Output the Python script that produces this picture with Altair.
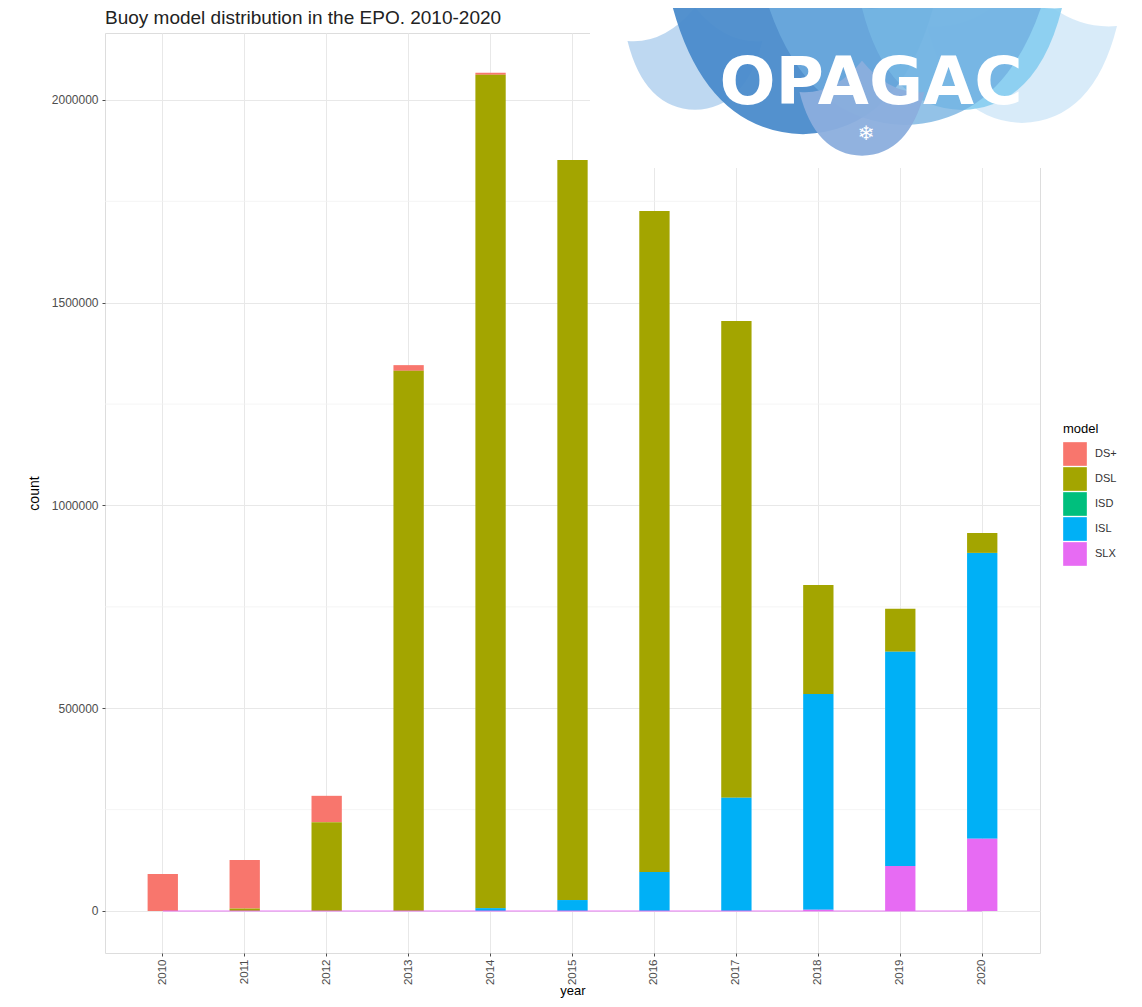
import altair as alt
import pandas as pd

# ---- data ----
years = [str(y) for y in range(2010, 2021)]
models = ["DS+", "DSL", "ISD", "ISL", "SLX"]
model_colors = ["#F8766D", "#A3A500", "#00BF7D", "#00B0F6", "#E76BF3"]

ds_plus = [91000, 120000, 65000, 14000, 5000, 0, 0, 0, 0, 0, 0]
dsl = [0, 6000, 219000, 1332000, 2055000, 1825000, 1630000, 1176000, 269000, 106000, 49000]
isd = [0, 0, 0, 0, 0, 0, 0, 0, 0, 0, 0]
isl = [0, 0, 0, 0, 7000, 27000, 96000, 279000, 532000, 528000, 705000]
slx = [0, 0, 0, 0, 0, 0, 0, 0, 3000, 111000, 178000]

y_ticks = [0, 500000, 1000000, 1500000, 2000000]
y_minor = [250000, 750000, 1250000, 1750000]

title_text = "Buoy model distribution in the EPO. 2010-2020"

series = {"DS+": ds_plus, "DSL": dsl, "ISD": isd, "ISL": isl, "SLX": slx}
rows = []
for i, m in enumerate(models):
    for yr, v in zip(years, series[m]):
        rows.append({"year": yr, "model": m, "count": v, "ord": len(models) - i})
df = pd.DataFrame(rows)
zero_df = pd.DataFrame({"year": years, "count": [0] * len(years)})
minor_df = pd.DataFrame({"v": y_minor})

FONT = "Liberation Sans"
W, H = 935, 920
TOP = 25  # plot top inside the svg (page y = TOP + 8)

x_enc = alt.X(
    "year:O",
    title="year",
    scale=alt.Scale(paddingInner=0.63, paddingOuter=0.52),
    axis=alt.Axis(
        labelAngle=270,
        labelFontSize=11.5,
        labelColor="#4d4d4d",
        labelFont=FONT,
        labelPadding=3,
        tickSize=3,
        tickColor="#4d4d4d",
        domain=False,
        grid=True,
        gridColor="#e8e8e8",
        gridWidth=1,
        titleFontSize=13,
        titleFont=FONT,
        titleColor="#000000",
        titleFontWeight="normal",
        titlePadding=0,
    ),
)

y_scale = alt.Scale(domain=[-103600, 2165000], nice=False, zero=False)

bars = alt.Chart(df).mark_bar().encode(
    x=x_enc,
    y=alt.Y(
        "count:Q",
        stack="zero",
        title="count",
        scale=y_scale,
        axis=alt.Axis(
            values=y_ticks,
            format="d",
            labelFontSize=12,
            labelColor="#4d4d4d",
            labelFont=FONT,
            labelPadding=4,
            tickSize=3,
            tickColor="#4d4d4d",
            domain=False,
            grid=True,
            gridColor="#e8e8e8",
            gridWidth=1,
            titleFontSize=14,
            titleFont=FONT,
            titleColor="#000000",
            titleFontWeight="normal",
            titlePadding=10,
        ),
    ),
    color=alt.Color(
        "model:N",
        scale=alt.Scale(domain=models, range=model_colors),
        legend=alt.Legend(
            title="model",
            orient="none",
            legendX=958,
            legendY=390,
            symbolType="square",
            symbolSize=560,
            symbolStrokeWidth=0,
            symbolOpacity=1,
            rowPadding=1,
            titleFontSize=13,
            titleFont=FONT,
            titleFontWeight="normal",
            titleColor="#000000",
            titlePadding=6,
            labelFontSize=11,
            labelFont=FONT,
            labelColor="#333333",
            labelOffset=8,
        ),
    ),
    order=alt.Order("ord:Q", sort="ascending"),
)

minor_grid = alt.Chart(minor_df).mark_rule(color="#f1f1f1", strokeWidth=0.8).encode(
    y=alt.Y("v:Q", scale=y_scale)
)

zero_line = alt.Chart(zero_df).mark_line(color="#E76BF3", opacity=0.45, strokeWidth=2).encode(
    x=alt.X("year:O"), y=alt.Y("count:Q", scale=y_scale)
)

one = pd.DataFrame({"a": [0]})

# chart title as text (left aligned with the panel)
title_mark = alt.Chart(one).mark_text(
    text=title_text, font=FONT, fontSize=19, color="#222222", align="left", baseline="alphabetic"
).encode(x=alt.value(0), y=alt.value(-9))

# ---- decorative logo (top right) ----
PX, PY = 105, TOP + 8  # page position of the plot origin
cover = alt.Chart(one).mark_rect(color="white").encode(
    x=alt.value(485), x2=alt.value(1040), y=alt.value(-TOP), y2=alt.value(168 - PY)
)

scale_path = "M-1,-0.4 Q-0.45,-0.35 0,-0.9 Q0.45,-0.35 1,-0.4 Q0.75,0.6 0,0.62 Q-0.75,0.6 -1,-0.4 Z"


def wave(cx, cy, w, color, op):
    return alt.Chart(one).mark_point(
        shape=scale_path, filled=True, color=color, opacity=op, size=w * w, strokeWidth=0
    ).encode(x=alt.value(cx - PX), y=alt.value(cy - PY))


logo_layers = [
    wave(695, 68, 135, "#BBD6F0", 0.95),
    wave(1022, 64, 190, "#D6EAF9", 0.95),
    wave(803, 52, 265, "#4A8BCB", 0.95),
    wave(962, 48, 200, "#86CDF0", 0.9),
    wave(905, 35, 290, "#6FAEDF", 0.75),
    wave(862, 117, 125, "#8BAEDD", 0.95),
]
logo_text = alt.Chart(one).mark_text(
    text="OPAGAC", font="DejaVu Sans", fontWeight="bold", fontSize=66,
    color="white", align="center", baseline="alphabetic"
).encode(x=alt.value(871 - PX), y=alt.value(104 - PY))
snow = alt.Chart(one).mark_text(
    text="❄", font="DejaVu Sans", fontSize=20, color="white", align="center", baseline="middle"
).encode(x=alt.value(866 - PX), y=alt.value(134 - PY))

chart = alt.layer(
    minor_grid, bars, zero_line, cover, *logo_layers, logo_text, snow, title_mark
).properties(
    width=W,
    height=H,
    padding={"left": 97, "top": TOP, "right": 94, "bottom": 46},
    autosize=alt.AutoSizeParams(type="none"),
).configure_view(stroke="#c4c4c4", strokeWidth=1).configure(background="white")

chart.save("out.html", embed_options={"renderer": "svg", "actions": False})
